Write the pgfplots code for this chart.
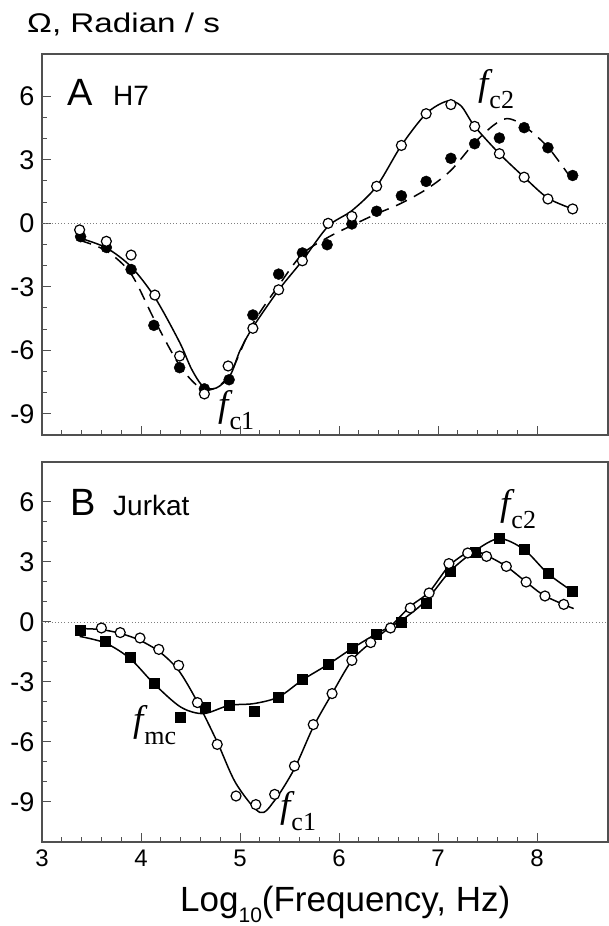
\documentclass[border=0pt]{standalone}
\usepackage{pgfplots}
\pgfplotsset{compat=1.18}
\usepackage{fontspec}
\setmainfont{Liberation Sans}
\newfontfamily\serif{Liberation Serif}
\newfontfamily\widefont[FakeStretch=1.23]{Liberation Sans}
% italic f with an upright, dropped subscript
\newcommand{\fl}[1]{{\serif\fontsize{37}{37}\selectfont\itshape f}\kern1pt{\serif\fontsize{26}{26}\selectfont\raisebox{-13pt}{#1}}}
\definecolor{spine}{HTML}{505050}
\pgfplotsset{
  panel/.style={scale only axis, width=566pt, xmin=3, xmax=8.717, ymax=8,
    xtick={3,...,8}, minor x tick num=4, ytick={-9,-6,...,6}, minor y tick num=2,
    tick align=inside, xtick pos=left, ytick pos=left,
    major tick length=9pt, minor tick length=5pt,
    axis line style={line width=1.8pt, spine}, tick style={line width=1pt, spine},
    xticklabel style={font=\fontsize{24}{28}\selectfont, yshift=-4pt},
    yticklabel style={font=\fontsize{27}{31}\selectfont, xshift=-4pt},
    /pgf/number format/assume math mode=true, clip=false},
  zero/.style={gray, line width=0.9pt, dash pattern=on 1pt off 2.2pt},
  fit/.style={black, line width=1.5pt, smooth, tension=0.5},
  opn/.style={only marks, mark=*, mark size=5pt, mark options={fill=white, draw=black, line width=1.2pt}},
  ful/.style={only marks, mark=*, mark size=5.5pt, mark options={fill=black, draw=black}},
  sqr/.style={only marks, mark=square*, mark size=5pt, mark options={fill=black, draw=black}},
}
\begin{document}
\begin{tikzpicture}
\useasboundingbox (0,0) rectangle (609pt,926pt);

% ---------------- panel A : H7 ----------------
\begin{axis}[panel, at={(42pt,491pt)}, anchor=south west, height=381pt, ymin=-10, xticklabels={}]
\addplot[zero] coordinates {(3,0) (8.717,0)};
% fit through open circles
\addplot[fit] coordinates {
(3.38,-0.69) (3.65,-1.16) (3.90,-2.05) (4.14,-3.50) (4.39,-5.62) (4.51,-6.88)
(4.63,-7.72) (4.76,-7.78) (4.90,-7.19) (5.00,-6.01) (5.13,-4.91) (5.39,-3.15)
(5.63,-1.76) (5.89,-0.14) (6.13,0.60) (6.38,1.75) (6.63,3.68) (6.88,5.18)
(7.09,5.77) (7.23,5.56) (7.37,4.58) (7.62,3.29) (7.87,2.18) (8.11,1.19) (8.36,0.68)};
% fit through filled circles
\addplot[fit, dash pattern=on 12pt off 8pt] coordinates {
(3.38,-0.80) (3.65,-1.30) (3.90,-2.39) (4.14,-4.60) (4.39,-6.72) (4.59,-7.75)
(4.73,-7.82) (4.90,-7.11) (5.13,-4.75) (5.39,-2.94) (5.63,-1.45) (5.89,-0.66)
(6.13,-0.10) (6.38,0.45) (6.62,0.93) (6.89,1.63) (7.13,2.50) (7.36,3.76)
(7.56,4.63) (7.70,4.95) (7.86,4.63) (8.11,3.60) (8.36,2.02)};
\addplot[ful] coordinates {
(3.39,-0.63) (3.65,-1.14) (3.90,-2.18) (4.13,-4.82) (4.39,-6.82) (4.64,-7.82)
(4.89,-7.39) (5.13,-4.33) (5.39,-2.40) (5.63,-1.40) (5.88,-1.01) (6.13,-0.03)
(6.38,0.57) (6.63,1.30) (6.88,1.98) (7.13,3.07) (7.37,3.76) (7.62,4.03)
(7.87,4.52) (8.11,3.57) (8.36,2.26)};
\addplot[opn] coordinates {
(3.38,-0.31) (3.65,-0.85) (3.90,-1.50) (4.14,-3.39) (4.39,-6.27) (4.64,-8.06)
(4.88,-6.74) (5.13,-4.96) (5.39,-3.14) (5.63,-1.77) (5.89,0.00) (6.13,0.33)
(6.38,1.75) (6.63,3.68) (6.88,5.18) (7.13,5.61) (7.37,4.58) (7.62,3.29)
(7.87,2.18) (8.11,1.15) (8.36,0.68)};
\node[anchor=base west, inner sep=0pt, font=\fontsize{38}{38}\selectfont] at (axis cs:3.253,5.56) {A};
\node[anchor=base west, inner sep=0pt, font=\fontsize{28}{28}\selectfont] at (axis cs:3.717,5.56) {H7};
\node[anchor=base west, inner sep=0pt] at (axis cs:4.778,-9.13) {\fl{c1}};
\node[anchor=base west, inner sep=0pt] at (axis cs:7.404,6.03) {\fl{c2}};
\end{axis}

% ---------------- panel B : Jurkat ----------------
\begin{axis}[panel, at={(42pt,84pt)}, anchor=south west, height=380pt, ymin=-11]
\addplot[zero] coordinates {(3,0) (8.717,0)};
% fit through open circles
\addplot[fit] coordinates {
(3.40,-0.33) (3.60,-0.38) (3.80,-0.58) (3.99,-0.92) (4.19,-1.50) (4.38,-2.42)
(4.57,-4.00) (4.77,-6.00) (4.96,-8.08) (5.20,-9.52) (5.35,-8.92) (5.55,-7.33)
(5.74,-5.25) (5.93,-3.58) (6.13,-1.92) (6.32,-1.03) (6.52,-0.22) (6.72,0.78)
(6.91,1.50) (7.11,2.80) (7.30,3.50) (7.36,3.58) (7.49,3.33) (7.69,2.78)
(7.89,2.00) (8.08,1.30) (8.37,0.67)};
% fit through squares
\addplot[fit] coordinates {
(3.38,-0.72) (3.64,-1.05) (3.89,-1.83) (4.13,-3.08) (4.40,-4.25) (4.63,-4.58)
(4.89,-4.17) (5.14,-4.08) (5.39,-3.75) (5.63,-2.90) (5.89,-2.12) (6.13,-1.33)
(6.38,-0.58) (6.63,0.08) (6.88,1.08) (7.12,2.53) (7.38,3.58) (7.62,4.17)
(7.87,3.62) (8.11,2.42) (8.36,1.53)};
\addplot[sqr] coordinates {
(3.39,-0.42) (3.64,-0.95) (3.89,-1.75) (4.13,-3.05) (4.40,-4.75) (4.65,-4.28)
(4.89,-4.17) (5.14,-4.47) (5.39,-3.78) (5.63,-2.87) (5.89,-2.13) (6.13,-1.33)
(6.38,-0.62) (6.63,0.00) (6.88,0.95) (7.12,2.53) (7.38,3.50) (7.62,4.17)
(7.87,3.62) (8.11,2.42) (8.36,1.53)};
\addplot[opn] coordinates {
(3.60,-0.30) (3.79,-0.53) (3.99,-0.80) (4.18,-1.37) (4.38,-2.17) (4.57,-4.03)
(4.77,-6.12) (4.96,-8.70) (5.16,-9.13) (5.35,-8.62) (5.55,-7.20) (5.74,-5.13)
(5.93,-3.58) (6.13,-1.92) (6.32,-1.03) (6.52,-0.30) (6.72,0.70) (6.91,1.45)
(7.11,2.92) (7.30,3.45) (7.49,3.28) (7.69,2.78) (7.89,2.00) (8.08,1.30) (8.27,0.88)};
\node[anchor=base west, inner sep=0pt, font=\fontsize{38}{38}\selectfont] at (axis cs:3.283,5.335) {B};
\node[anchor=base west, inner sep=0pt, font=\fontsize{28}{28}\selectfont] at (axis cs:3.717,5.335) {Jurkat};
\node[anchor=base west, inner sep=0pt] at (axis cs:3.919,-5.47) {\fl{mc}};
\node[anchor=base west, inner sep=0pt] at (axis cs:5.404,-9.77) {\fl{c1}};
\node[anchor=base west, inner sep=0pt] at (axis cs:7.626,5.34) {\fl{c2}};
\end{axis}

% titles
\node[anchor=base west, inner sep=0pt, font=\widefont\fontsize{27}{27}\selectfont] at (27pt,893pt) {Ω, Radian / s};
\node[anchor=base west, inner sep=0pt, font=\fontsize{35}{35}\selectfont] at (180pt,14pt)
  {Log\raisebox{-11pt}{\fontsize{21}{21}\selectfont 10}(Frequency, Hz)};
\end{tikzpicture}
\end{document}
